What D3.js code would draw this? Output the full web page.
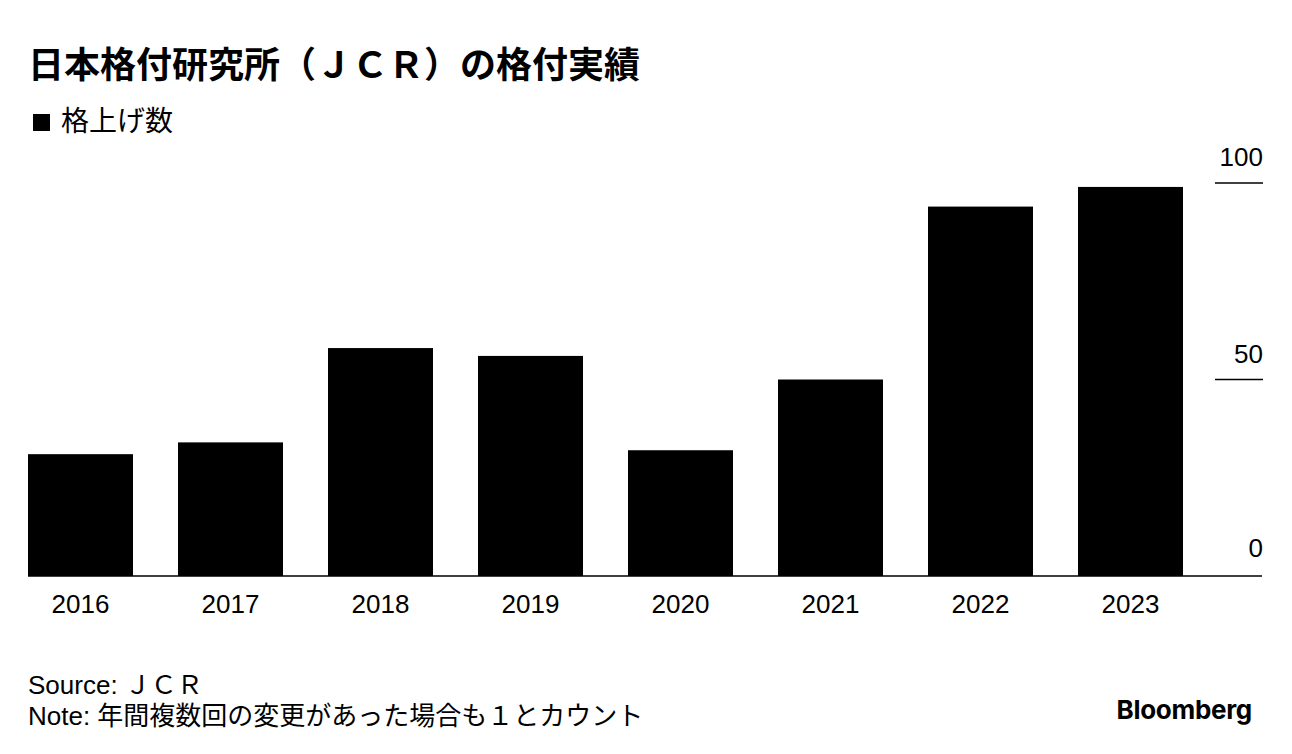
<!DOCTYPE html>
<html><head><meta charset="utf-8">
<script src="https://cdn.jsdelivr.net/npm/d3@7"></script>
<style>
html,body{margin:0;padding:0;background:#fff;}
text{font-family:"Liberation Sans","Noto Sans CJK JP",sans-serif;fill:#000;}
</style></head>
<body>
<svg id="c" width="1292" height="754"></svg>
<script>
const years = ["2016","2017","2018","2019","2020","2021","2022","2023"];
const upgrades = [31, 34, 58, 56, 32, 50, 94, 99];
const yTicks = [0, 50, 100];
const title = "日本格付研究所（ＪＣＲ）の格付実績";
const legendLabel = "格上げ数";
const sourceText = "Source: ＪＣＲ";
const noteText = "Note: 年間複数回の変更があった場合も１とカウント";

const svg = d3.select("#c");
const x = d3.scaleBand().domain(years).range([28, 1183]).paddingInner(0.3).paddingOuter(0);
const y = d3.scaleLinear().domain([0, 100]).range([576, 183]);

svg.append("text").attr("x", 28).attr("y", 78)
  .style("font-family", '"Noto Sans CJK JP",sans-serif')
  .style("font-weight", 700).style("font-size", "36px").text(title);

svg.append("rect").attr("x", 33).attr("y", 114).attr("width", 17).attr("height", 17).attr("fill", "#000");
svg.append("text").attr("x", 61).attr("y", 131)
  .style("font-family", '"Noto Sans CJK JP",sans-serif')
  .style("font-size", "28px").text(legendLabel);

// bars
svg.append("g").selectAll("rect").data(years).join("rect")
  .attr("x", d => x(d)).attr("width", x.bandwidth())
  .attr("y", (d, i) => y(upgrades[i]))
  .attr("height", (d, i) => y(0) - y(upgrades[i]))
  .attr("fill", "#000");

// right axis with short tick lines
const ticks = svg.append("g");
yTicks.filter(t => t > 0).forEach(t => {
  ticks.append("line").attr("x1", 1215).attr("x2", 1263)
    .attr("y1", y(t)).attr("y2", y(t)).attr("stroke", "#000").attr("stroke-width", 1.5);
});
yTicks.forEach(t => {
  ticks.append("text").attr("x", 1263).attr("y", y(t) - (t === 0 ? 19 : 17))
    .attr("text-anchor", "end").style("font-size", "26px").text(d3.format("d")(t));
});

// baseline
svg.append("line").attr("x1", 28).attr("x2", 1262).attr("y1", y(0)).attr("y2", y(0))
  .attr("stroke", "#000").attr("stroke-width", 1.5);

// x axis labels
const xAxis = d3.axisBottom(x).tickSize(0).tickPadding(0);
const gx = svg.append("g").attr("transform", `translate(0,${y(0)})`).call(xAxis);
gx.select(".domain").remove();
gx.selectAll(".tick text").attr("dy", null).attr("y", 37)
  .style("font-size", "26px").style("font-family", '"Liberation Sans",sans-serif').attr("fill", "#000");

// footer
svg.append("text").attr("x", 28).attr("y", 694).style("font-size", "26px").text(sourceText);
svg.append("text").attr("x", 28).attr("y", 725).style("font-size", "26px").text(noteText);
svg.append("text").attr("x", 1252).attr("y", 719).attr("text-anchor", "end")
  .style("font-family", '"Inter","Liberation Sans",sans-serif')
  .style("font-weight", 700).style("font-size", "26px").style("letter-spacing", "-0.3px").text("Bloomberg");
</script>
</body></html>
